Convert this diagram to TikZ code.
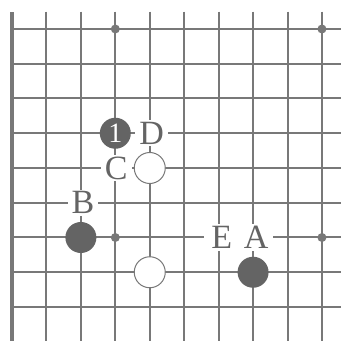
\documentclass[tikz,border=0pt]{standalone}
\usepackage{fontspec}
\setmainfont{Liberation Serif}
\definecolor{gridc}{RGB}{120,120,120}
\definecolor{stonec}{RGB}{100,100,100}
\definecolor{textc}{RGB}{100,100,100}
\begin{document}
\begin{tikzpicture}[
  gridline/.style={draw=gridc, line width=2pt},
  edgeline/.style={draw=gridc, line width=3.4pt},
  blackstone/.style={circle, fill=stonec, minimum size=31pt, inner sep=0pt},
  whitestone/.style={circle, fill=white, draw=gridc, line width=1pt, minimum size=31pt, inner sep=0pt},
  hoshi/.style={circle, fill=gridc, minimum size=9pt, inner sep=0pt},
  lbl/.style={fill=white, text=textc, inner xsep=4pt, inner ysep=2pt, font=\fontsize{34}{34}\selectfont}
]
\useasboundingbox (0pt,0pt) rectangle (341pt,341pt);
\fill[white] (0pt,0pt) rectangle (341pt,341pt);
\begin{scope}[shift={(12pt,312pt)}, x=34.44pt, y=-34.75pt]
  % grid
  \foreach \i in {1,...,9} \draw[gridline] (\i,-0.5) -- (\i,9.0);
  \foreach \j in {0,...,8} \draw[gridline] (0,\j) -- (9.6,\j);
  \draw[edgeline] (0,-0.48) -- (0,9.0);
  % star points
  \node[hoshi] (h1) at (3,0) {};
  \node[hoshi] (h2) at (9,0) {};
  \node[hoshi] (h3) at (3,6) {};
  \node[hoshi] (h4) at (9,6) {};
  % labels
  \node[lbl] (lD) at ([xshift=2pt]4,3) {D};
  \node[lbl] (lC) at ([xshift=1pt]3,4) {C};
  \node[lbl] (lB) at ([xshift=2pt]2,5) {B};
  \node[lbl, inner xsep=7pt] (lE) at ([xshift=3pt]6,6) {E};
  \node[lbl, inner xsep=5pt] (lA) at ([xshift=3pt]7,6) {A};
  % stones
  \node[blackstone, text=white, font=\fontsize{28}{28}\selectfont] (s1) at (3,3) {1};
  \node[whitestone] (w1) at (4,4) {};
  \node[blackstone] (b2) at (2,6) {};
  \node[whitestone] (w2) at (4,7) {};
  \node[blackstone] (b3) at (7,7) {};
\end{scope}
\end{tikzpicture}
\end{document}
